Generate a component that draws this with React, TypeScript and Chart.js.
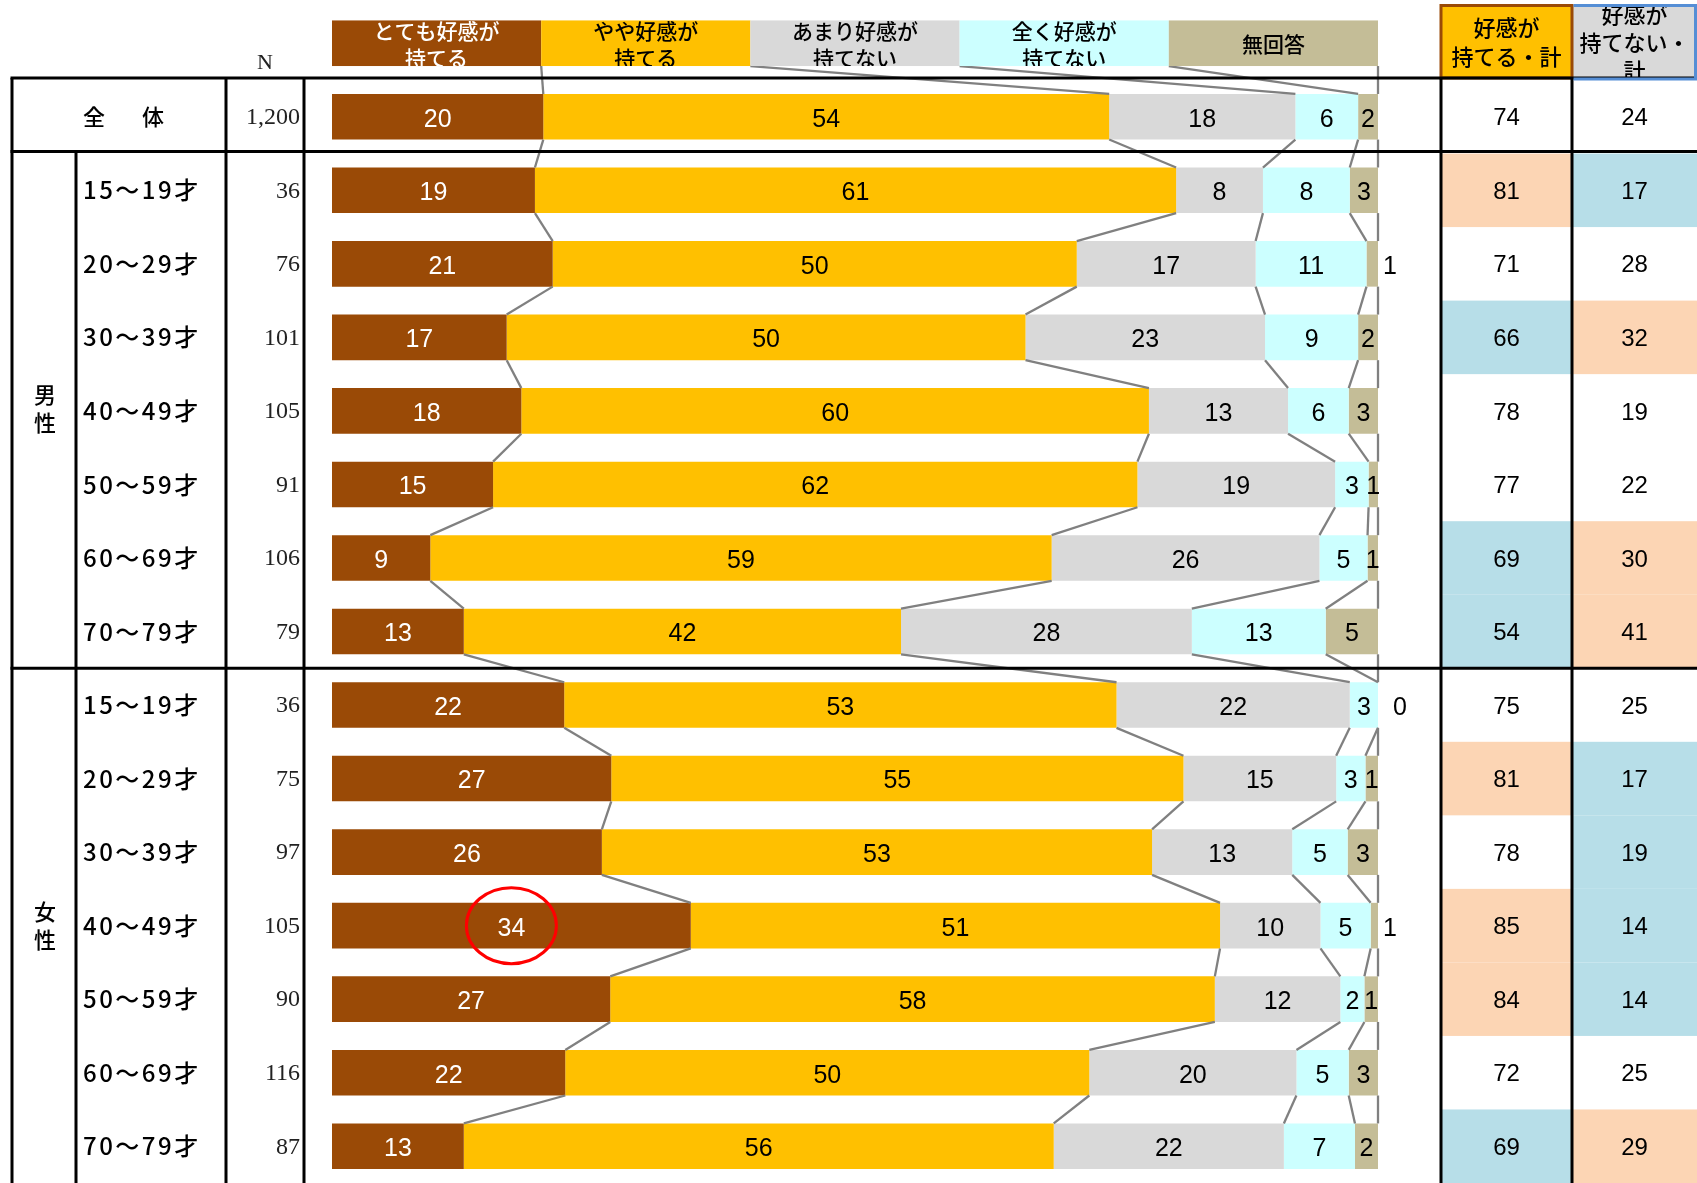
import React, { useEffect, useRef } from 'react';
import { Chart, registerables } from 'chart.js';

Chart.register(...registerables);

const W = 1697;
const H = 1183;

// ---- data ----
const categories = [
  '全体',
  '男性15～19才', '男性20～29才', '男性30～39才', '男性40～49才', '男性50～59才', '男性60～69才', '男性70～79才',
  '女性15～19才', '女性20～29才', '女性30～39才', '女性40～49才', '女性50～59才', '女性60～69才', '女性70～79才',
];
const ageLabels = [
  '', '15～19才', '20～29才', '30～39才', '40～49才', '50～59才', '60～69才', '70～79才',
  '15～19才', '20～29才', '30～39才', '40～49才', '50～59才', '60～69才', '70～79才',
];
const sampleSizes = ['1,200', '36', '76', '101', '105', '91', '106', '79', '36', '75', '97', '105', '90', '116', '87'];

const seriesNames = [
  ['とても好感が', '持てる'],
  ['やや好感が', '持てる'],
  ['あまり好感が', '持てない'],
  ['全く好感が', '持てない'],
  ['無回答'],
];
const veryFavorable = [20.2, 19.4, 21.1, 16.7, 18.1, 15.4, 9.4, 12.6, 22.2, 26.7, 25.8, 34.3, 26.6, 22.3, 12.6];
const somewhatFavorable = [54.1, 61.3, 50.1, 49.6, 60.0, 61.6, 59.4, 41.8, 52.8, 54.7, 52.6, 50.6, 57.8, 50.1, 56.4];
const notVeryFavorable = [17.8, 8.3, 17.1, 22.9, 13.3, 18.9, 25.6, 27.8, 22.3, 14.6, 13.4, 9.6, 12.0, 19.8, 22.0];
const notAtAllFavorable = [6.0, 8.3, 10.6, 8.9, 5.8, 3.2, 4.6, 12.8, 2.7, 2.8, 5.3, 4.8, 2.3, 5.0, 6.8];
const noAnswer = [1.9, 2.7, 1.1, 1.9, 2.8, 0.9, 1.0, 5.0, 0.0, 1.2, 2.9, 0.7, 1.3, 2.8, 2.2];

const favorableTotal = [74, 81, 71, 66, 78, 77, 69, 54, 75, 81, 78, 85, 84, 72, 69];
const unfavorableTotal = [24, 17, 28, 32, 19, 22, 30, 41, 25, 17, 19, 14, 14, 25, 29];

// ---- styles ----
const seriesValues = [veryFavorable, somewhatFavorable, notVeryFavorable, notAtAllFavorable, noAnswer];
const seriesColors = ['#9A4A06', '#FFC000', '#D9D9D9', '#CCFFFF', '#C4BD97'];
const labelColors = ['#FFFFFF', '#000000', '#000000', '#000000', '#000000'];
const OUTSIDE_LABEL_ROWS = new Set([2, 8, 11]);
const CIRCLED_ROW = 11;
const PEACH = '#FCD5B4';
const LIGHTBLUE = '#B7DEE8';
const CJK = '"Noto Sans CJK JP", "Noto Sans CJK SC", sans-serif';
const SANS = '"Liberation Sans", Arial, sans-serif';
const SERIF = '"Liberation Serif", "Times New Roman", serif';

const COL_X = { left: 12, sex: 76, n: 226, chart: 304, pos: 1441, neg: 1572 };

function highlight(total: number, base: number) {
  const d = total - base;
  if (d >= 4.95) return PEACH;
  if (d <= -4.95) return LIGHTBLUE;
  return null;
}

const tablePlugin = {
  id: 'tablePlugin',
  beforeDatasetsDraw(chart: any) {
    const ctx: CanvasRenderingContext2D = chart.ctx;
    const ys = chart.scales.y;
    const pitch = ys.getPixelForValue(1) - ys.getPixelForValue(0);
    const posRaw = categories.map((_, i) => veryFavorable[i] + somewhatFavorable[i]);
    const negRaw = categories.map((_, i) => notVeryFavorable[i] + notAtAllFavorable[i]);
    ctx.save();
    for (let i = 1; i < categories.length; i++) {
      const cy = ys.getPixelForValue(i);
      const top = cy - pitch / 2;
      const c1 = highlight(posRaw[i], posRaw[0]);
      const c2 = highlight(negRaw[i], negRaw[0]);
      if (c1) { ctx.fillStyle = c1; ctx.fillRect(COL_X.pos, top, COL_X.neg - COL_X.pos, pitch); }
      if (c2) { ctx.fillStyle = c2; ctx.fillRect(COL_X.neg, top, W - COL_X.neg, pitch); }
    }
    ctx.restore();
  },
  afterDatasetsDraw(chart: any) {
    const ctx: CanvasRenderingContext2D = chart.ctx;
    const xs = chart.scales.x;
    const ys = chart.scales.y;
    const pitch = ys.getPixelForValue(1) - ys.getPixelForValue(0);
    const metas = seriesValues.map((_, k) => chart.getDatasetMeta(k));
    const barH = metas[0].data[0].height;
    const headerCy = ys.getPixelForValue(0) - pitch;

    ctx.save();
    // ---- connector lines ----
    ctx.strokeStyle = '#808080';
    ctx.lineWidth = 2.3;
    for (let k = 0; k < seriesValues.length; k++) {
      ctx.beginPath();
      ctx.moveTo(xs.getPixelForValue(20 * (k + 1)), headerCy + barH / 2);
      const e0 = metas[k].data[0];
      ctx.lineTo(e0.x, e0.y - barH / 2);
      ctx.stroke();
      for (let r = 0; r < categories.length - 1; r++) {
        const a = metas[k].data[r];
        const b = metas[k].data[r + 1];
        ctx.beginPath();
        ctx.moveTo(a.x, a.y + barH / 2);
        ctx.lineTo(b.x, b.y - barH / 2);
        ctx.stroke();
      }
    }

    // ---- value labels ----
    ctx.font = `25px ${SANS}`;
    ctx.textBaseline = 'middle';
    for (let k = 0; k < seriesValues.length; k++) {
      metas[k].data.forEach((el: any, r: number) => {
        const txt = String(Math.round(seriesValues[k][r]));
        ctx.fillStyle = labelColors[k];
        if (k === 4 && OUTSIDE_LABEL_ROWS.has(r)) {
          ctx.textAlign = 'left';
          ctx.fillStyle = '#000';
          ctx.fillText(txt, el.x + (seriesValues[k][r] < 0.5 ? 15 : 5), el.y + 3);
        } else {
          ctx.textAlign = 'center';
          ctx.fillText(txt, (el.x + el.base) / 2, el.y + 3);
        }
      });
    }

    // ---- header legend bar ----
    for (let k = 0; k < seriesNames.length; k++) {
      const x0 = xs.getPixelForValue(20 * k);
      const x1 = xs.getPixelForValue(20 * (k + 1));
      const top = headerCy - barH / 2;
      ctx.fillStyle = seriesColors[k];
      ctx.fillRect(x0, top, x1 - x0, barH);
      ctx.save();
      ctx.beginPath();
      ctx.rect(x0, top, x1 - x0, barH);
      ctx.clip();
      ctx.fillStyle = labelColors[k];
      ctx.font = `500 21px ${CJK}`;
      ctx.textAlign = 'center';
      ctx.textBaseline = 'middle';
      const lines = seriesNames[k];
      const lh = 27;
      lines.forEach((ln, j) => {
        ctx.fillText(ln, (x0 + x1) / 2, headerCy + 1 + (j - (lines.length - 1) / 2) * lh);
      });
      ctx.restore();
    }

    // ---- left table texts ----
    ctx.fillStyle = '#000';
    ctx.textBaseline = 'middle';
    ctx.font = `500 22px ${CJK}`;
    ctx.textAlign = 'center';
    const cy0 = ys.getPixelForValue(0);
    ctx.fillText('全', 94, cy0);
    ctx.fillText('体', 153, cy0);
    const maleMid = (ys.getPixelForValue(1) + ys.getPixelForValue(7)) / 2;
    const femaleMid = (ys.getPixelForValue(8) + ys.getPixelForValue(14)) / 2;
    ctx.fillText('男', 45, maleMid - 16);
    ctx.fillText('性', 45, maleMid + 12);
    ctx.fillText('女', 45, femaleMid - 14);
    ctx.fillText('性', 45, femaleMid + 14);

    ctx.textAlign = 'left';
    ctx.font = `500 24px ${CJK}`;
    (ctx as any).letterSpacing = '2.5px';
    for (let i = 1; i < ageLabels.length; i++) {
      ctx.fillText(ageLabels[i], 83, ys.getPixelForValue(i));
    }
    (ctx as any).letterSpacing = '0px';

    ctx.fillStyle = '#222';
    ctx.font = `24px ${SERIF}`;
    ctx.textAlign = 'right';
    for (let i = 0; i < sampleSizes.length; i++) {
      ctx.fillText(sampleSizes[i], 300, ys.getPixelForValue(i) + 1);
    }
    ctx.textAlign = 'center';
    ctx.font = `22px ${SERIF}`;
    ctx.fillText('N', 265, 63);

    // ---- right totals ----
    ctx.fillStyle = '#000';
    ctx.font = `24px ${SANS}`;
    ctx.textAlign = 'center';
    for (let i = 0; i < categories.length; i++) {
      const cy = ys.getPixelForValue(i);
      ctx.fillText(String(favorableTotal[i]), (COL_X.pos + COL_X.neg) / 2, cy + 2);
      ctx.fillText(String(unfavorableTotal[i]), (COL_X.neg + W) / 2, cy + 2);
    }

    // ---- header boxes ----
    const lineTop = ys.getPixelForValue(0) - pitch / 2 - 2;
    ctx.fillStyle = '#FFC000';
    ctx.fillRect(COL_X.pos, 5, COL_X.neg - COL_X.pos, lineTop - 5);
    ctx.fillStyle = '#D9D9D9';
    ctx.fillRect(COL_X.neg, 5, W - COL_X.neg, lineTop - 5);
    ctx.save();
    ctx.fillStyle = '#000';
    ctx.font = `500 22px ${CJK}`;
    ctx.textAlign = 'center';
    ctx.textBaseline = 'middle';
    ctx.fillText('好感が', (COL_X.pos + COL_X.neg) / 2, 28);
    ctx.fillText('持てる・計', (COL_X.pos + COL_X.neg) / 2, 57);
    ctx.beginPath();
    ctx.rect(COL_X.neg, 6, W - COL_X.neg, lineTop - 6);
    ctx.clip();
    ctx.fillText('好感が', (COL_X.neg + W) / 2, 15);
    ctx.fillText('持てない・', (COL_X.neg + W) / 2, 43);
    ctx.fillText('計', (COL_X.neg + W) / 2, 71);
    ctx.restore();
    ctx.strokeStyle = '#9A4A06';
    ctx.lineWidth = 3;
    ctx.strokeRect(COL_X.pos, 5.5, COL_X.neg - COL_X.pos, lineTop - 5.5);

    // ---- table lines ----
    ctx.strokeStyle = '#000';
    ctx.lineWidth = 3;
    const hLines = [lineTop, ys.getPixelForValue(1) - pitch / 2 - 2, ys.getPixelForValue(8) - pitch / 2];
    hLines.forEach((yy) => {
      ctx.beginPath();
      ctx.moveTo(COL_X.left - 1.5, yy);
      ctx.lineTo(W, yy);
      ctx.stroke();
    });
    const vLine = (x: number, y0: number) => {
      ctx.beginPath();
      ctx.moveTo(x, y0);
      ctx.lineTo(x, H);
      ctx.stroke();
    };
    vLine(COL_X.left, lineTop);
    vLine(COL_X.sex, hLines[1]);
    vLine(COL_X.n, lineTop);
    vLine(COL_X.chart, lineTop);
    vLine(COL_X.pos, lineTop);
    vLine(COL_X.neg, lineTop);

    // blue header border
    ctx.strokeStyle = '#558ED5';
    ctx.lineWidth = 3;
    ctx.beginPath();
    ctx.moveTo(COL_X.neg + 1.5, 5.5);
    ctx.lineTo(W - 1.5, 5.5);
    ctx.lineTo(W - 1.5, lineTop + 1);
    ctx.lineTo(COL_X.neg + 1.5, lineTop + 1);
    ctx.stroke();

    // ---- red circle annotation ----
    const ce = metas[0].data[CIRCLED_ROW];
    ctx.strokeStyle = '#FF0000';
    ctx.lineWidth = 3;
    ctx.beginPath();
    ctx.ellipse((ce.x + ce.base) / 2, ce.y, 45, 38, 0, 0, Math.PI * 2);
    ctx.stroke();

    ctx.restore();
  },
};

export default function App() {
  const ref = useRef<HTMLCanvasElement>(null);
  useEffect(() => {
    if (!ref.current) return;
    const chart = new Chart(ref.current, {
      type: 'bar',
      data: {
        labels: categories,
        datasets: seriesValues.map((vals, k) => ({
          label: seriesNames[k].join(''),
          data: vals,
          backgroundColor: seriesColors[k],
          borderWidth: 0,
          categoryPercentage: 1,
          barPercentage: 0.62,
        })),
      },
      options: {
        indexAxis: 'y',
        responsive: false,
        animation: false,
        devicePixelRatio: 1,
        events: [],
        layout: { padding: { left: 332, right: W - 1378, top: 80, bottom: 0 } },
        scales: {
          x: { stacked: true, min: 0, max: 100, display: false },
          y: { stacked: true, display: false },
        },
        plugins: { legend: { display: false }, tooltip: { enabled: false } },
      },
      plugins: [tablePlugin],
    } as any);
    return () => chart.destroy();
  }, []);
  return (
    <div style={{ position: 'fixed', left: 0, top: 0, width: W, height: H, background: '#fff', overflow: 'hidden' }}>
      <canvas ref={ref} width={W} height={H} style={{ display: 'block', width: W, height: H }} />
    </div>
  );
}
